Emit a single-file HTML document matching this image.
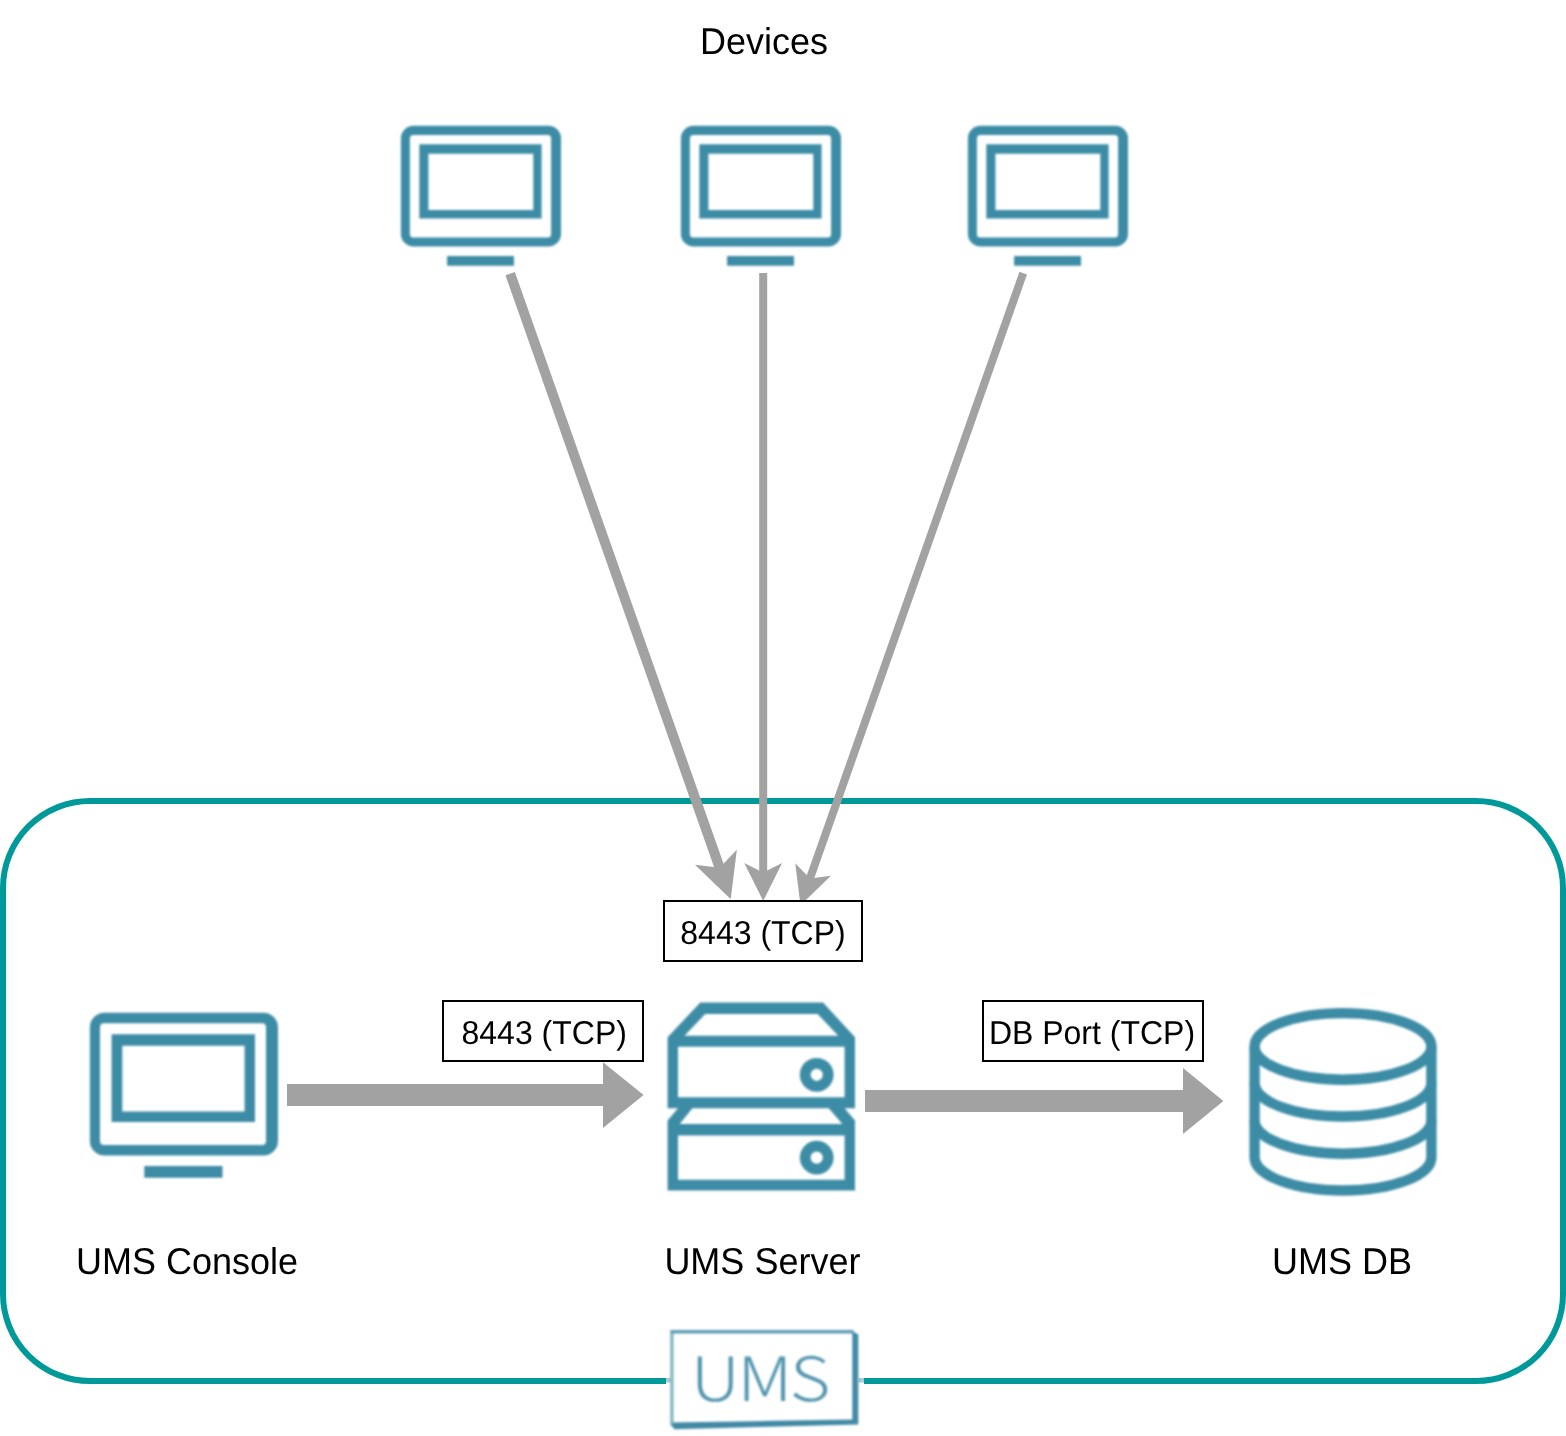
<!DOCTYPE html>
<html lang="en">
<head>
<meta charset="utf-8">
<title>UMS Communication Ports</title>
<style>
  html, body { margin: 0; padding: 0; background: #ffffff; }
  body { width: 1566px; height: 1436px; overflow: hidden; }
  svg { display: block; will-change: transform; }
  text { font-family: "Liberation Sans", Arial, Helvetica, sans-serif; fill: #000000; text-rendering: geometricPrecision; }
  .t36 { font-size: 36px; }
  .t32 { font-size: 32px; }
  .logo { font-family: "Noto Sans CJK SC", "DejaVu Sans Light", "Liberation Sans", sans-serif; font-weight: 300; font-size: 61px; fill: #5496af; }
</style>
</head>
<body>
<svg width="1566" height="1436" viewBox="0 0 1566 1436">
  <defs>
    <filter id="soft" x="-5%" y="-5%" width="110%" height="110%" color-interpolation-filters="sRGB">
      <feGaussianBlur stdDeviation="1"/>
    </filter>
    <!-- device monitor icon (160 x 140) -->
    <path id="monitor-s" fill="#3d8ca6" fill-rule="evenodd" d="M 12.6 0.1 H 147.7 A 12.5 12.5 0 0 1 160.2 12.6 V 108.3 A 12.5 12.5 0 0 1 147.7 120.8 H 12.6 A 12.5 12.5 0 0 1 0.1 108.3 V 12.6 A 12.5 12.5 0 0 1 12.6 0.1 Z M 12.6 9.4 H 146.8 A 3.5 3.5 0 0 1 150.3 12.9 V 108.4 A 3.5 3.5 0 0 1 146.8 111.9 H 12.6 A 3.5 3.5 0 0 1 9.1 108.4 V 12.9 A 3.5 3.5 0 0 1 12.6 9.4 Z M 18.5 18.6 H 140.8 V 92.7 H 18.5 Z M 27.6 28 H 132.5 V 84.2 H 27.6 Z M 46.3 130.2 H 113.2 V 140 H 46.3 Z"/>
    <!-- console monitor icon (189 x 166) -->
    <path id="monitor-l" fill="#3d8ca6" fill-rule="evenodd" d="M 14.5 0 H 173.6 A 14.5 14.5 0 0 1 188.1 14.5 V 128.1 A 14.5 14.5 0 0 1 173.6 142.6 H 14.5 A 14.5 14.5 0 0 1 0 128.1 V 14.5 A 14.5 14.5 0 0 1 14.5 0 Z M 14.1 10.5 H 172.1 A 4 4 0 0 1 176.1 14.5 V 128.3 A 4 4 0 0 1 172.1 132.3 H 14.1 A 4 4 0 0 1 10.1 128.3 V 14.5 A 4 4 0 0 1 14.1 10.5 Z M 21.7 21.5 H 165.1 V 109.3 H 21.7 Z M 32.4 33 H 154.7 V 98.8 H 32.4 Z M 54.4 153.2 H 132.6 V 164.9 H 54.4 Z"/>
  </defs>

  <rect x="0" y="0" width="1566" height="1436" fill="#ffffff"/>

  <!-- UMS container -->
  <rect x="3" y="801" width="1560" height="580" rx="87" ry="87" fill="none" stroke="#009999" stroke-width="6"/>

  <!-- Devices title -->
  <text class="t36" x="764" y="54" text-anchor="middle" transform="matrix(1 0 0 1.035 0 -1.890)">Devices</text>

  <!-- device monitors -->
  <g filter="url(#soft)">
    <use href="#monitor-s" x="400.8" y="125.7"/>
    <use href="#monitor-s" x="680.8" y="125.7"/>
    <use href="#monitor-s" x="967.8" y="125.7"/>
    <use href="#monitor-l" x="89.9" y="1012.8"/>
  </g>


  <!-- UMS server icon -->
  <g filter="url(#soft)" fill="#3d8ca6">
    <path fill-rule="evenodd" d="M 700.3 1002.4 L 823 1002.4 L 855 1037.2 L 855 1108.2 L 667.6 1108.2 L 667.6 1037.2 Z M 705.2 1013.9 L 684.5 1035.7 L 838.3 1035.7 L 817.6 1013.9 Z M 678 1046.8 L 678 1097.3 L 844.6 1097.3 L 844.6 1046.8 Z"/>
    <path fill-rule="evenodd" d="M 678.2 1108 L 844.4 1108 L 855 1120.6 L 855 1190.5 L 667.6 1190.5 L 667.6 1120.6 Z M 692.6 1108 L 679.6 1124 L 842.4 1124 L 828.5 1108 Z M 678 1135.4 L 678 1179.7 L 844.6 1179.7 L 844.6 1135.4 Z"/>
    <circle cx="816.7" cy="1074.8" r="11.5" fill="none" stroke="#3d8ca6" stroke-width="10.8"/>
    <circle cx="816.7" cy="1157.6" r="11.5" fill="none" stroke="#3d8ca6" stroke-width="10.8"/>
  </g>

  <!-- UMS database icon -->
  <g filter="url(#soft)" fill="none" stroke="#3d8ca6" stroke-width="10.4">
    <ellipse cx="1343" cy="1046.4" rx="88.4" ry="33.3"/>
    <path d="M 1254.6 1046.4 V 1157.2 A 88.4 33.3 0 0 0 1431.4 1157.2 V 1046.4"/>
    <path d="M 1254.6 1083.2 A 88.4 33.3 0 0 0 1431.4 1083.2"/>
    <path d="M 1254.6 1120.4 A 88.4 33.3 0 0 0 1431.4 1120.4"/>
  </g>

  <!-- UMS logo badge -->
  <g id="logo">
    <rect x="666" y="1322" width="198" height="114" fill="#ffffff"/>
    <rect x="666" y="1378" width="5" height="4.5" fill="#a9cdd6"/>
    <rect x="858.5" y="1378" width="5.5" height="4.5" fill="#a9cdd6"/>
    <g filter="url(#soft)">
      <path d="M 852.3 1331 L 858.3 1334.4 L 858.3 1424.4 L 674.5 1429.3 L 670.6 1424.8 L 671 1422.4 L 852.3 1419.6 Z" fill="#4189a5"/>
      <path d="M 671.9 1424.5 V 1333" fill="none" stroke="#7fb0c2" stroke-width="3.2"/>
      <path d="M 670.3 1331.8 H 853.5" fill="none" stroke="#5f9db5" stroke-width="3.4"/>
      <text class="logo" transform="scale(1.15 1)" x="600.5 641 686.8" y="1401.2">UMS</text>
    </g>
  </g>

  <!-- thin arrows: devices to server -->
  <g id="thin-arrows">
    <path d="M 510.15 273.6 L 721.5 873" fill="none" stroke="#a2a2a2" stroke-width="10" stroke-miterlimit="10"/>
    <path d="M 726.98 888.56 L 709.29 871.47 L 721.5 873 L 730.04 864.15 Z" fill="#a2a2a2" stroke="#a2a2a2" stroke-width="10" stroke-miterlimit="10"/>
    <path d="M 763.2 273 L 763.2 876.96" fill="none" stroke="#a2a2a2" stroke-width="8" stroke-miterlimit="10"/>
    <path d="M 763.2 891.96 L 753.2 871.96 L 763.2 876.96 L 773.2 871.96 Z" fill="#a2a2a2" stroke="#a2a2a2" stroke-width="8" stroke-miterlimit="10"/>
    <path d="M 1023.2 273.2 L 808.46 882.62" fill="none" stroke="#a2a2a2" stroke-width="8" stroke-miterlimit="10"/>
    <path d="M 803.47 896.76 L 800.69 874.58 L 808.46 882.62 L 819.55 881.22 Z" fill="#a2a2a2" stroke="#a2a2a2" stroke-width="8" stroke-miterlimit="10"/>
  </g>

  <!-- block arrows -->
  <polygon fill="#a2a2a2" points="287,1084 603,1084 603,1062.3 643.6,1095 603,1128 603,1106 287,1106"/>
  <polygon fill="#a2a2a2" points="865,1090 1183,1090 1183,1068 1223.4,1101 1183,1134 1183,1112 865,1112"/>

  <!-- port boxes -->
  <rect x="664" y="901" width="198" height="60" fill="#ffffff" stroke="#000000" stroke-width="2"/>
  <text class="t32" x="763" y="944" text-anchor="middle" transform="matrix(1 0 0 1.035 0 -33.040)">8443 (TCP)</text>
  <rect x="443" y="1001" width="200" height="60" fill="#ffffff" stroke="#000000" stroke-width="2"/>
  <text class="t32" x="544.2" y="1044" text-anchor="middle" transform="matrix(1 0 0 1.035 0 -36.540)">8443 (TCP)</text>
  <rect x="983" y="1001" width="220" height="60" fill="#ffffff" stroke="#000000" stroke-width="2"/>
  <text class="t32" x="1092" y="1044" text-anchor="middle" transform="matrix(1 0 0 1.035 0 -36.540)">DB Port (TCP)</text>

  <!-- labels -->
  <text class="t36" x="187.1" y="1273.6" text-anchor="middle" transform="matrix(1 0 0 1.035 0 -44.576)">UMS Console</text>
  <text class="t36" x="762.4" y="1273.6" text-anchor="middle" transform="matrix(1 0 0 1.035 0 -44.576)">UMS Server</text>
  <text class="t36" x="1342" y="1273.6" text-anchor="middle" transform="matrix(1 0 0 1.035 0 -44.576)">UMS DB</text>
</svg>
</body>
</html>
